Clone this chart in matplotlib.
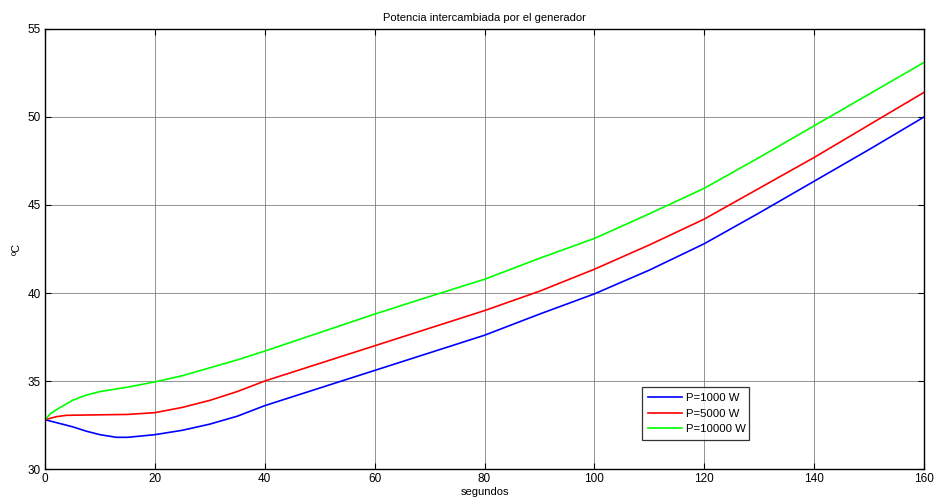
import numpy as np
import matplotlib.pyplot as plt

# tiempo (s) y temperatura (ºC)
t_1000 = [0, 2.5, 5, 7.5, 10, 13, 15, 20, 25, 30, 35, 40, 50, 60, 70, 80,
          90, 100, 110, 120, 130, 140, 150, 160]
T_1000 = [32.8, 32.6, 32.4, 32.15, 31.95, 31.8, 31.8, 31.95, 32.2, 32.55, 33.0,
          33.6, 34.6, 35.6, 36.6, 37.6, 38.8, 39.95, 41.3, 42.8, 44.55,
          46.35, 48.15, 50.0]

t_5000 = [0, 2, 3.9, 8, 15, 20, 25, 30, 35, 40, 50, 60, 70, 80, 90, 100,
          110, 120, 130, 140, 150, 160]
T_5000 = [32.8, 32.97, 33.05, 33.07, 33.1, 33.2, 33.5, 33.9, 34.4, 35.0, 36.0,
          37.0, 38.0, 39.0, 40.1, 41.35, 42.73, 44.2, 45.95, 47.7, 49.55, 51.4]

t_10000 = [0, 1, 2.5, 5, 7.5, 10, 15, 20, 25, 30, 35, 40, 50, 60, 70, 80,
           90, 100, 110, 120, 130, 140, 150, 160]
T_10000 = [32.8, 33.15, 33.45, 33.9, 34.2, 34.4, 34.65, 34.95, 35.3, 35.75, 36.2,
           36.7, 37.75, 38.8, 39.8, 40.78, 41.97, 43.1, 44.5, 45.95, 47.7,
           49.5, 51.3, 53.1]

plt.rcParams['font.family'] = ['Liberation Sans', 'DejaVu Sans']

fig = plt.figure(figsize=(9.34, 5.0), dpi=100)
ax = fig.add_axes([0.0482, 0.062, 0.9411, 0.88])

ax.plot(t_1000, T_1000, color='#0000ff', lw=1.2, label='P=1000 W')
ax.plot(t_5000, T_5000, color='#ff0000', lw=1.2, label='P=5000 W')
ax.plot(t_10000, T_10000, color='#00ff00', lw=1.2, label='P=10000 W')

ax.set_xlim(0, 160)
ax.set_ylim(30, 55)
ax.set_xticks(np.arange(0, 161, 20))
ax.set_yticks(np.arange(30, 56, 5))
ax.grid(True, color='#777777', lw=0.7, ls='-', alpha=0.8)
ax.tick_params(direction='in', top=True, right=True, length=4, width=0.8,
               labelsize=8.5, pad=3)
for s in ax.spines.values():
    s.set_linewidth(1.0)

ax.set_title('Potencia intercambiada por el generador', fontsize=8, pad=6)
ax.set_xlabel('segundos', fontsize=8, labelpad=1)
ax.set_ylabel('ºC', fontsize=8, labelpad=4)

leg = ax.legend(loc='lower left', bbox_to_anchor=(0.679, 0.066, 0.122, 0.116),
                mode='expand', fontsize=8.2, frameon=True, fancybox=False,
                borderaxespad=0, handlelength=3.0, handletextpad=0.35,
                labelspacing=0.5, borderpad=0.5)
leg.get_frame().set_edgecolor('black')
leg.get_frame().set_linewidth(0.9)

fig.savefig('out.png', dpi=100)
